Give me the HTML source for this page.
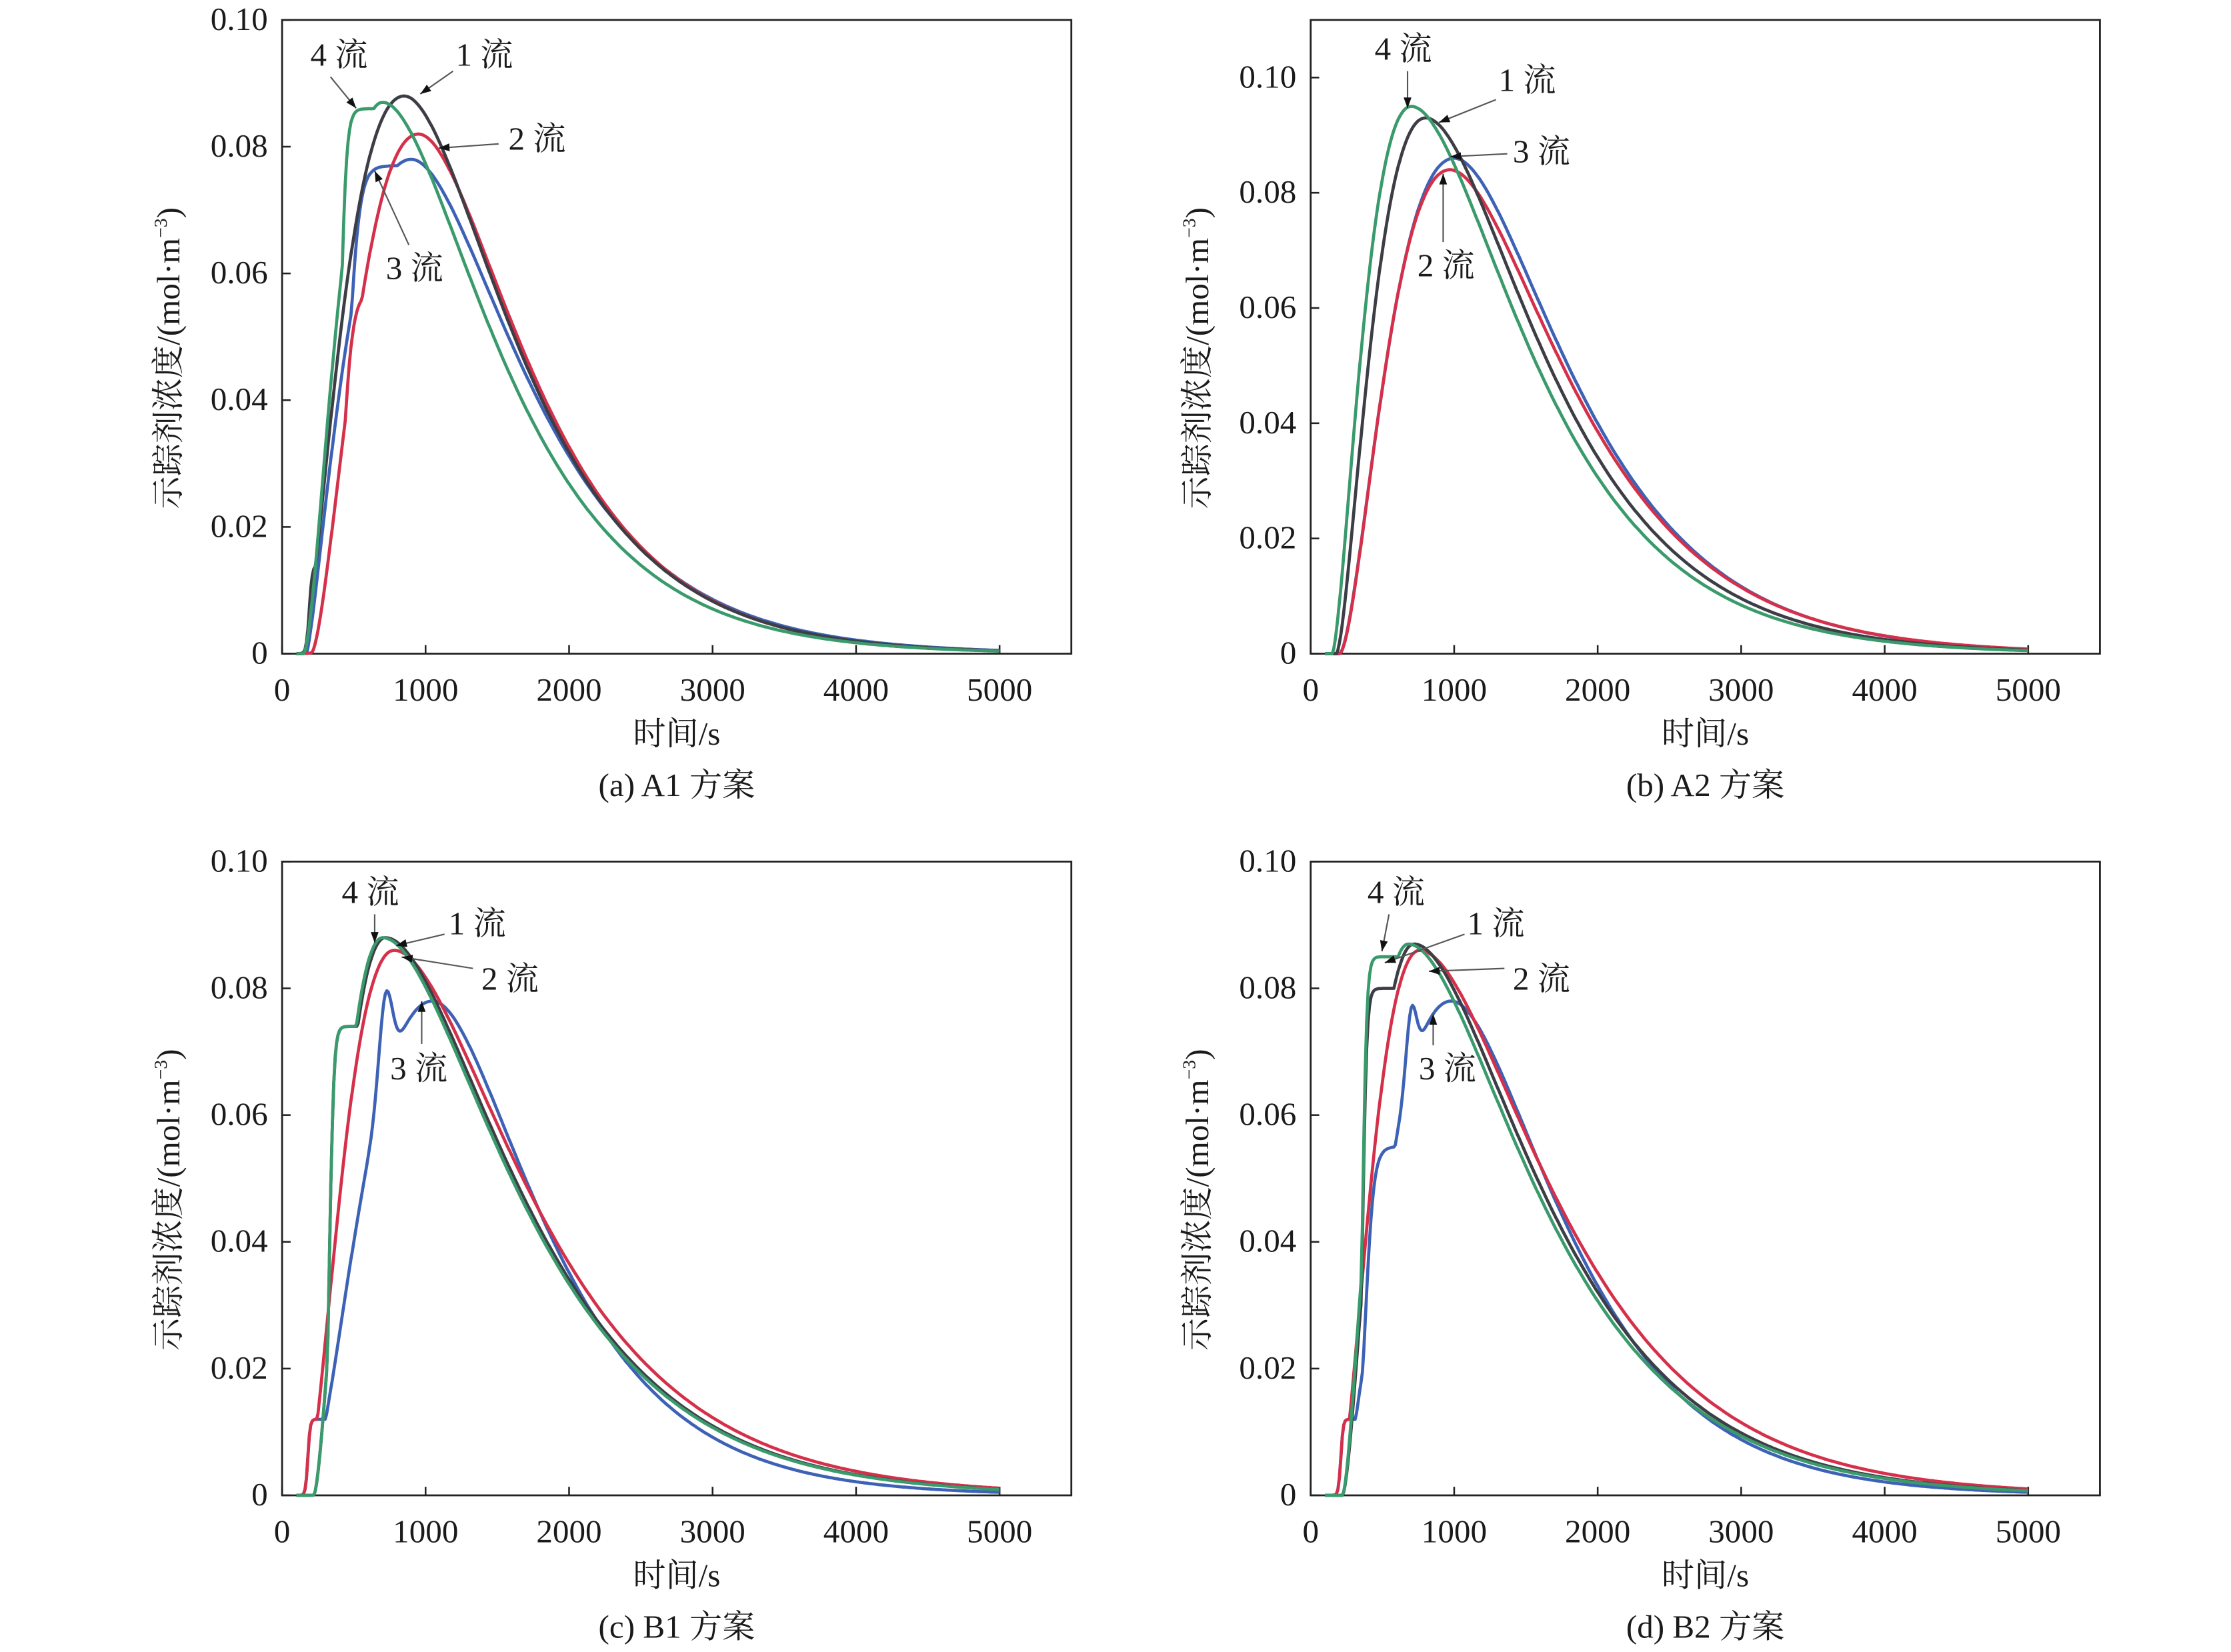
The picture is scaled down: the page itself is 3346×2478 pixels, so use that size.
<!DOCTYPE html>
<html><head><meta charset="utf-8">
<style>
html,body{margin:0;padding:0;background:#fff;}
svg{display:block;}
text{font-family:"Liberation Serif","Noto Serif CJK SC",serif;fill:#1a1a1a;}
</style></head>
<body>
<svg id="s" xmlns="http://www.w3.org/2000/svg" width="3346" height="2478" viewBox="0 0 1566 1160" preserveAspectRatio="none">
</svg>
<script>
const S=document.getElementById('s');
const NS='http://www.w3.org/2000/svg';
function el(t,a,txt){const e=document.createElementNS(NS,t);for(const k in a)e.setAttribute(k,a[k]);if(txt!=null)e.textContent=txt;S.appendChild(e);return e;}
const COL={1:'#3d3d45',2:'#d4304a',3:'#3d62b5',4:'#3a9a6c'};
function base(t,p){
  if(t<=p.t0)return 0;
  if(t<p.tp){const r=(t-p.t0)/(p.tp-p.t0);return p.P*Math.pow(r,p.k)*Math.exp(p.k*(1-r));}
  const x=(t-p.tp)/(1000*(p.L||1.05));return p.P*Math.exp(-1.52*x*x/(x+0.822));
}
function sig(x){return 1/(1+Math.exp(-x));}
function val(t,p){
  let v=base(t,p);
  if(p.sh&&t<p.tp){const r=p.sh.S*sig((t-p.sh.ts)/p.sh.w);v=Math.max(v,r);}
  if(p.early&&t<p.tp){v=Math.max(v,p.early.S*sig((t-p.early.ts)/p.early.w));}
  if(p.sp){v+=p.sp.A*Math.exp(-Math.pow((t-p.sp.c)/p.sp.w,2)/2);}
  return v;
}
function panel(x0,y0,ymax,yt,cap,series,ann){
  const W=554,H=445,xs=W/5500;
  const X=t=>x0+t*xs, Y=v=>y0+H-v/ymax*H;
  el('rect',{x:x0,y:y0,width:W,height:H,fill:'none',stroke:'#222','stroke-width':1.3});
  for(let i=0;i<=5;i++){const x=X(i*1000);el('line',{x1:x,y1:y0+H,x2:x,y2:y0+H-6,stroke:'#222','stroke-width':1.2});
    el('text',{x:x,y:y0+H+33,'text-anchor':'middle','font-size':23},String(i*1000));}
  yt.forEach(v=>{const y=Y(v);el('line',{x1:x0,y1:y,x2:x0+6,y2:y,stroke:'#222','stroke-width':1.2});
    el('text',{x:x0-10,y:y+7,'text-anchor':'end','font-size':23},v==0?'0':v.toFixed(2));});
  el('text',{x:x0+W/2,y:y0+H+64,'text-anchor':'middle','font-size':23},'时间/s');
  el('text',{x:x0+W/2,y:y0+H+100,'text-anchor':'middle','font-size':23},cap);
  const yl=el('text',{x:0,y:0,'text-anchor':'middle','font-size':23,transform:`translate(${x0-72},${y0+H/2+15}) rotate(-90)`});
  yl.innerHTML='示踪剂浓度/(mol·m<tspan font-size="13" dy="-9">−3</tspan><tspan dy="9">)</tspan>';
  [3,2,1,4].forEach(id=>{const p=series[id];if(!p)return;let d='';
    for(let t=100;t<=5000;t+=10){const v=val(t,p);d+=(d?'L':'M')+X(t).toFixed(1)+','+Y(v).toFixed(1);}
    el('path',{d:d,fill:'none',stroke:COL[id],'stroke-width':2.2,'stroke-linejoin':'round'});});
  ann.forEach(a=>{el('text',{x:a[0],y:a[1],'text-anchor':'middle','font-size':23},a[2]);
    el('line',{x1:a[3],y1:a[4],x2:a[5],y2:a[6],stroke:'#555','stroke-width':1});
    const ang=Math.atan2(a[6]-a[4],a[5]-a[3]),L=8;
    const p1=[a[5]-L*Math.cos(ang-0.35),a[6]-L*Math.sin(ang-0.35)],p2=[a[5]-L*Math.cos(ang+0.35),a[6]-L*Math.sin(ang+0.35)];
    el('polygon',{points:`${a[5]},${a[6]} ${p1} ${p2}`,fill:'#111'});});
}
panel(198,14,0.10,[0,0.02,0.04,0.06,0.08,0.10],'(a) A1 方案',{
 1:{t0:150,tp:850,P:0.088,k:1.5,L:1.0,early:{S:0.014,ts:190,w:10}},
 2:{t0:200,tp:950,P:0.082,k:1.75,L:0.98,sh:{S:0.057,ts:420,w:35}},
 3:{t0:170,tp:900,P:0.078,k:1.35,L:1.03,sh:{S:0.077,ts:450,w:40}},
 4:{t0:150,tp:700,P:0.087,k:1.75,L:1.02,sh:{S:0.086,ts:400,w:22}}},
 [[238,46,'4 流',232,54,250,76],[340,46,'1 流',318,50,295,66],[377,105,'2 流',350,101,308,104],[291,196,'3 流',287,172,263,120]]);
panel(920,14,0.11,[0,0.02,0.04,0.06,0.08,0.10],'(b) A2 方案',{
 1:{t0:180,tp:800,P:0.093,k:1.6,L:1.055},
 2:{t0:200,tp:970,P:0.084,k:1.8,L:1.08},
 3:{t0:200,tp:1000,P:0.086,k:1.75,L:1.06},
 4:{t0:150,tp:700,P:0.095,k:1.6,L:1.05}},
 [[985,42,'4 流',988,50,988,76],[1072,64,'1 流',1050,70,1010,86],[1082,114,'3 流',1058,108,1018,110],[1015,194,'2 流',1013,170,1013,122]]);
panel(198,605,0.10,[0,0.02,0.04,0.06,0.08,0.10],'(c) B1 方案',{
 1:{t0:220,tp:720,P:0.088,k:1.7,L:1.17,sh:{S:0.074,ts:330,w:15}},
 2:{t0:150,tp:780,P:0.086,k:1.9,L:1.2,early:{S:0.012,ts:180,w:8}},
 3:{t0:150,tp:1050,P:0.078,k:2.0,L:0.98,early:{S:0.012,ts:180,w:8},sp:{A:0.014,c:720,w:45}},
 4:{t0:220,tp:700,P:0.088,k:1.75,L:1.17,sh:{S:0.074,ts:330,w:15}}},
 [[260,634,'4 流',263,642,263,662],[335,656,'1 流',312,656,278,664],[358,695,'2 流',332,680,282,672],[294,758,'3 流',296,733,296,703]]);
panel(920,605,0.10,[0,0.02,0.04,0.06,0.08,0.10],'(d) B2 方案',{
 1:{t0:220,tp:720,P:0.087,k:1.75,L:1.13,sh:{S:0.080,ts:360,w:15}},
 2:{t0:190,tp:760,P:0.086,k:1.8,L:1.18,early:{S:0.012,ts:210,w:8}},
 3:{t0:190,tp:980,P:0.078,k:1.85,L:1.0,early:{S:0.012,ts:210,w:8},sh:{S:0.055,ts:380,w:30},sp:{A:0.01,c:700,w:35}},
 4:{t0:220,tp:680,P:0.087,k:1.75,L:1.13,sh:{S:0.085,ts:360,w:15}}},
 [[980,634,'4 流',975,642,970,668],[1050,656,'1 流',1028,656,972,676],[1082,695,'2 流',1056,680,1003,682],[1016,758,'3 流',1006,734,1006,712]]);
</script>
</body></html>
